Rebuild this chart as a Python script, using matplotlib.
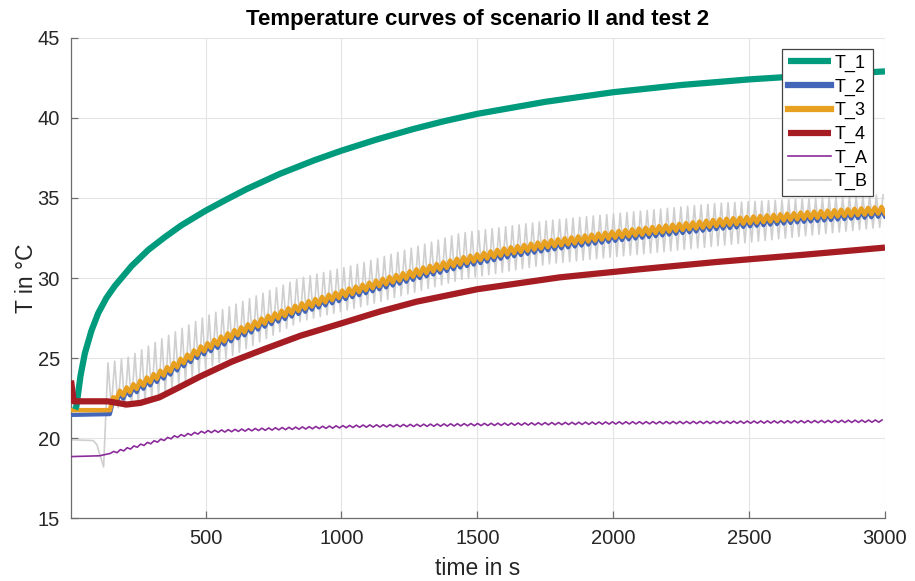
import numpy as np
import matplotlib
matplotlib.use('Agg')
import matplotlib.pyplot as plt

plt.rcParams['font.family'] = ['Liberation Sans', 'DejaVu Sans']

# values (time in s, temperature in degC)
t_1 = [20, 25, 40, 56, 80, 105, 135, 166, 228, 289, 350, 412, 500, 577, 651, 773, 900, 1000,
       1130, 1264, 1380, 1500, 1750, 2000, 2250, 2500, 2750, 3000]
T_1 = [21.8, 22.0, 23.9, 25.3, 26.7, 27.8, 28.75, 29.5, 30.75, 31.75, 32.55, 33.3, 34.2, 34.9,
       35.55, 36.5, 37.35, 37.95, 38.65, 39.3, 39.8, 40.25, 41.0, 41.6, 42.05, 42.4, 42.67, 42.9]

t_23 = [5, 148, 165, 250, 350, 479, 534, 600, 724, 850, 1000, 1141, 1300, 1436, 1600, 1767,
        2000, 2380, 2700, 3000]
T_2 = [21.45, 21.5, 22.4, 23.1, 23.95, 25.3, 25.75, 26.3, 27.2, 28.0, 28.8, 29.5, 30.25, 30.85,
       31.45, 31.95, 32.5, 33.25, 33.7, 34.05]
T_3 = [21.75, 21.75, 22.6, 23.3, 24.15, 25.5, 25.95, 26.5, 27.4, 28.2, 29.0, 29.7, 30.45, 31.05,
       31.65, 32.15, 32.7, 33.45, 33.9, 34.25]
band_23 = 0.2  # half height of the zigzag on T_2 / T_3

t_4 = [5, 15, 140, 210, 260, 330, 400, 479, 600, 724, 850, 1000, 1140, 1276, 1500, 1803, 2100,
       2380, 2700, 3000]
T_4 = [23.6, 22.3, 22.3, 22.1, 22.2, 22.55, 23.15, 23.84, 24.8, 25.61, 26.4, 27.17, 27.9, 28.52,
       29.3, 30.04, 30.55, 31.0, 31.45, 31.9]

t_A = [5, 110, 150, 270, 390, 500, 700, 1070, 1500, 2000, 2500, 3000]
T_A = [18.85, 18.9, 19.05, 19.6, 20.1, 20.4, 20.55, 20.75, 20.85, 20.95, 21.0, 21.07]
band_A = 0.07

# T_B: start-up part, then peaks / troughs of the oscillation
t_B0 = [5, 86, 100, 125]
T_B0 = [19.9, 19.85, 19.6, 18.2]
t_Benv = [141, 209, 350, 500, 850, 1070, 1440, 1770, 2380, 3000]
T_Bpeak = [24.7, 25.0, 26.3, 27.6, 30.0, 30.9, 32.8, 33.6, 34.66, 35.2]
T_Btrough = [21.9, 21.9, 22.8, 24.3, 27.3, 28.2, 29.9, 30.9, 32.0, 33.2]

osc_period = 24.8  # s, spacing of the peaks
osc_start = 141


def zigzag(t_env, upper, lower, t_from=osc_start, t_to=3000):
    n = int((t_to - t_from) / (osc_period / 2))
    tt = t_from + np.arange(n + 1) * osc_period / 2
    up = np.interp(tt, t_env, upper)
    lo = np.interp(tt, t_env, lower)
    return tt, np.where(np.arange(n + 1) % 2 == 0, up, lo)


def with_band(t_pts, vals, half, t_flat):
    t_pts = np.asarray(t_pts, float)
    vals = np.asarray(vals, float)
    keep = t_pts <= t_flat
    tz, vz = zigzag(t_pts, vals + half, vals - half, t_from=t_flat + 12)
    return np.r_[t_pts[keep], tz], np.r_[vals[keep], vz]


fig = plt.figure(figsize=(9.15, 5.81), dpi=100)
ax = fig.add_axes([0.0776, 0.108, 0.8896, 0.827])

c_1 = '#009b7d'
c_2 = '#4466b8'
c_3 = '#e8a020'
c_4 = '#a51d23'
c_A = '#8a2c9a'
c_B = '#cfcfcf'

tx, vx = with_band(t_23, T_2, band_23, 148)
ty, vy = with_band(t_23, T_3, band_23, 148)
ta, va = with_band(t_A, T_A, band_A, 150)
tb, vb = zigzag(t_Benv, T_Bpeak, T_Btrough)
tb = np.r_[t_B0, tb]
vb = np.r_[T_B0, vb]

ax.plot(t_1, T_1, color=c_1, lw=4.5, label='T_1', zorder=5, solid_capstyle='butt')
ax.plot(tx, vx, color=c_2, lw=3.0, label='T_2', zorder=3)
ax.plot(ty, vy, color=c_3, lw=3.2, label='T_3', zorder=4)
ax.plot(t_4, T_4, color=c_4, lw=4.5, label='T_4', zorder=5, solid_capstyle='butt')
ax.plot(ta, va, color=c_A, lw=1.2, label='T_A', zorder=5)
ax.plot(tb, vb, color=c_B, lw=1.2, label='T_B', zorder=2)

ax.set_xlim(5, 3000)
ax.set_ylim(15, 45)
ax.set_xticks([500, 1000, 1500, 2000, 2500, 3000])
ax.set_yticks([15, 20, 25, 30, 35, 40, 45])
ax.grid(True, color='#e4e4e4', lw=0.8)
ax.set_axisbelow(True)

for side in ['top', 'right']:
    ax.spines[side].set_visible(False)
for side in ['left', 'bottom']:
    ax.spines[side].set_color('#6e6e6e')
    ax.spines[side].set_linewidth(0.9)
ax.tick_params(direction='in', length=5, width=0.9, color='#6e6e6e',
               labelsize=14.5, labelcolor='#262626', pad=8)

ax.set_title('Temperature curves of scenario II and test 2', fontsize=16,
             fontweight='bold', pad=9)
ax.set_xlabel('time in s', fontsize=16.5, color='#262626', labelpad=6)
ax.set_ylabel('T in °C', fontsize=16.5, color='#262626', labelpad=0)

leg = ax.legend(loc='upper right', bbox_to_anchor=(0.954, 0.915),
                bbox_transform=fig.transFigure, fontsize=13, frameon=True,
                fancybox=False, borderaxespad=0, borderpad=0.3,
                handlelength=2.4, handletextpad=0.2, labelspacing=0.36)
leg.get_frame().set_edgecolor('#444444')
leg.get_frame().set_linewidth(0.9)
leg.get_frame().set_alpha(1)
for line in leg.get_lines()[:4]:
    line.set_linewidth(4.5)

fig.savefig('out.png', dpi=100)
